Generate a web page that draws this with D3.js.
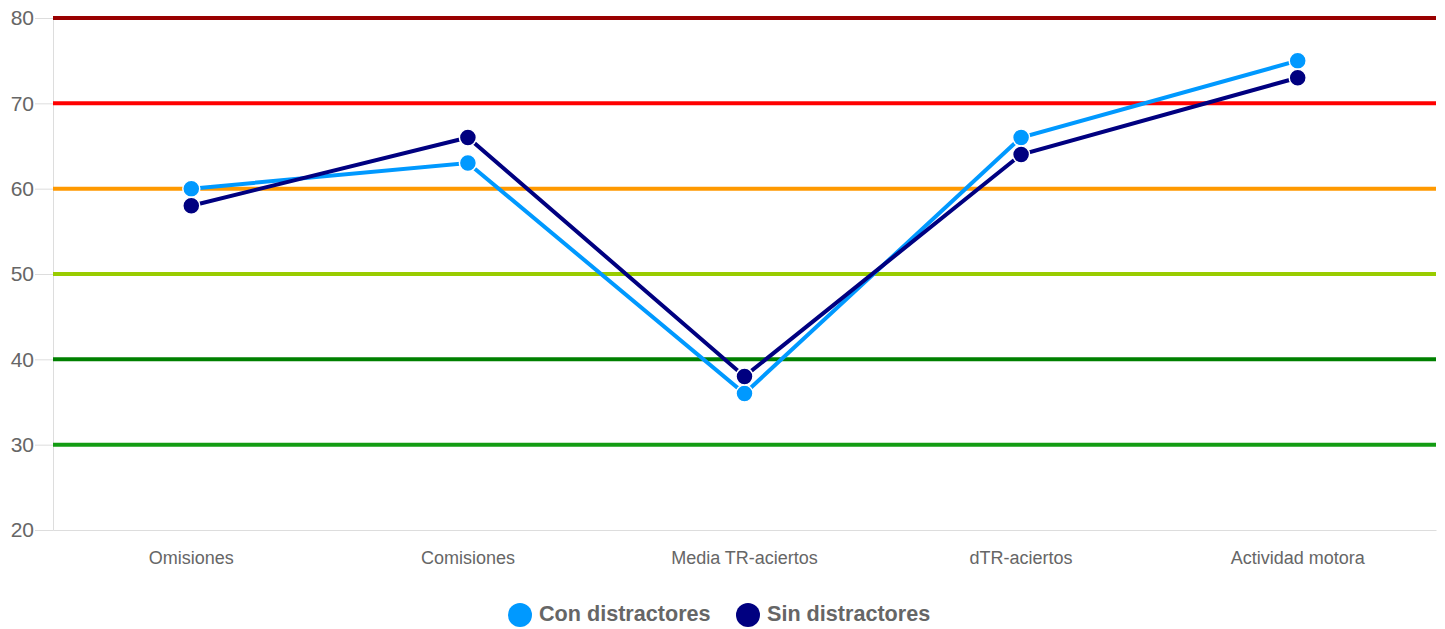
<!DOCTYPE html>
<html><head><meta charset="utf-8">
<script src="https://cdn.jsdelivr.net/npm/d3@7"></script>
<style>body{margin:0;background:#fff;}svg{display:block;font-family:"Liberation Sans",Arial,sans-serif;}</style>
</head><body>
<svg id="c" width="1445" height="629"></svg>
<script>
const categories = ["Omisiones","Comisiones","Media TR-aciertos","dTR-aciertos","Actividad motora"];
const conDistractores = [60,63,36,66,75];
const sinDistractores = [58,66,38,64,73];
const yTicks = [20,30,40,50,60,70,80];
const refValues = [80,70,60,50,40,30];
const refColors = ["#990000","#ff0000","#ff9900","#99cc00","#008000","#139c13"];
const seriesNames = ["Con distractores","Sin distractores"];
const seriesColors = ["#0099ff","#000080"];

const svg = d3.select("#c");
const L = 53, R = 1436, T = 18, B = 530;
const x = d3.scaleBand().domain(categories).range([L,R]);
const y = d3.scaleLinear().domain([20,80]).range([B,T]);

// axes
const ya = svg.append("g").attr("transform",`translate(${L},0)`)
  .call(d3.axisLeft(y).tickValues(yTicks).tickSize(18).tickPadding(1));
ya.select(".domain").attr("stroke","#dddddd");
ya.selectAll(".tick line").attr("stroke","#dddddd");
ya.selectAll(".tick text").attr("fill","#666").attr("font-size",21);

const xa = svg.append("g").attr("transform",`translate(0,${B})`)
  .call(d3.axisBottom(x).tickSize(0).tickPadding(21));
xa.select(".domain").attr("stroke","#dddddd");
xa.selectAll(".tick text").attr("fill","#666").attr("font-size",18);

// reference lines
svg.append("g").selectAll("line").data(refValues).join("line")
  .attr("x1",L).attr("x2",R)
  .attr("y1",d=>y(d)).attr("y2",d=>y(d))
  .attr("stroke",(d,i)=>refColors[i]).attr("stroke-width",4);

const series = [conDistractores, sinDistractores];
const line = d3.line().x((d,i)=>x(categories[i])+x.bandwidth()/2).y(d=>y(d));
[0,1].forEach(s=>{
  svg.append("path").datum(series[s]).attr("d",line)
    .attr("fill","none").attr("stroke",seriesColors[s]).attr("stroke-width",4);
});
[0,1].forEach(s=>{
  svg.append("g").selectAll("circle").data(series[s]).join("circle")
    .attr("cx",(d,i)=>x(categories[i])+x.bandwidth()/2).attr("cy",d=>y(d))
    .attr("r",8.5).attr("fill",seriesColors[s]).attr("stroke","#fff").attr("stroke-width",1.5);
});

// legend
const lg = svg.append("g");
const legX = [520, 748];
seriesNames.forEach((n,i)=>{
  lg.append("circle").attr("cx",legX[i]).attr("cy",615).attr("r",12).attr("fill",seriesColors[i]);
  lg.append("text").attr("x",legX[i]+19).attr("y",621).text(n)
    .attr("fill","#666").attr("font-size",21.6).attr("font-weight","bold");
});
</script>
</body></html>
